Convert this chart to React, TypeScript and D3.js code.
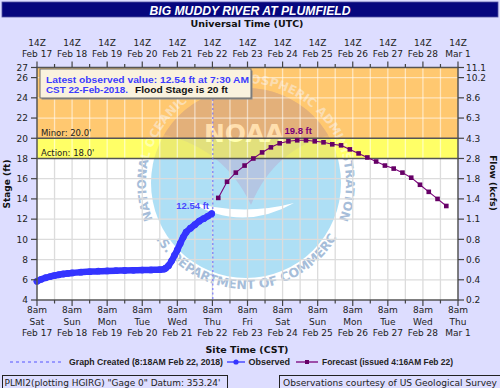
import React from 'react';
import * as d3 from 'd3';

const W = 500;
const H = 388;
const parse = d3.utcParse('%Y-%m-%d %H:%M');

// ---- data (times are CST wall clock) ----
const xStartStr = '2018-02-17 08:00';
const xEndStr = '2018-03-01 08:00';
const graphCreatedStr = '2018-02-22 08:18';

const stageTicks = [4, 6, 8, 10, 12, 14, 16, 18, 20, 22, 24, 26, 27];
const flowTickLabels = ['0.2', '0.4', '0.6', '0.8', '1.1', '1.4', '1.8', '2.8', '4.3', '6.3', '8.6', '10.2', '11.1'];
const gridStages = [6, 8, 10, 12, 14, 16, 22, 24, 26];
const stageMin = 4;
const stageMax = 27;
const floodStage = 20;
const actionStage = 18;

// observed: hours after Feb 17 08:00 CST, stage in ft
const obsHours = [0, 3, 6, 9, 12, 15, 18, 21, 24, 30, 36, 42, 48, 54, 60, 66, 72, 78, 84, 87, 88, 90, 92, 94, 96, 98, 100, 102, 105, 108, 111, 114, 117, 119.5];
const obsStage = [5.85, 6.05, 6.2, 6.32, 6.42, 6.5, 6.57, 6.63, 6.68, 6.75, 6.8, 6.85, 6.88, 6.9, 6.92, 6.94, 6.96, 6.98, 7.0, 7.06, 7.15, 7.4, 7.85, 8.4, 8.95, 9.6, 10.2, 10.7, 11.1, 11.45, 11.8, 12.05, 12.3, 12.54];

// forecast (issued 4:16AM Feb 22)
const fcstTimes = [
  '2018-02-22 12:00', '2018-02-22 18:00', '2018-02-23 00:00', '2018-02-23 06:00', '2018-02-23 12:00', '2018-02-23 18:00',
  '2018-02-24 00:00', '2018-02-24 06:00', '2018-02-24 12:00', '2018-02-24 18:00', '2018-02-25 00:00', '2018-02-25 06:00',
  '2018-02-25 12:00', '2018-02-25 18:00', '2018-02-26 00:00', '2018-02-26 06:00', '2018-02-26 12:00', '2018-02-26 18:00',
  '2018-02-27 00:00', '2018-02-27 06:00', '2018-02-27 12:00', '2018-02-27 18:00', '2018-02-28 00:00', '2018-02-28 06:00',
  '2018-02-28 12:00', '2018-02-28 18:00', '2018-03-01 00:00',
];
const fcstStage = [14.1, 15.7, 16.6, 17.3, 18.0, 18.6, 19.1, 19.5, 19.7, 19.8, 19.8, 19.7, 19.6, 19.4, 19.3, 18.9, 18.5, 18.1, 17.7, 17.3, 17.0, 16.6, 16.1, 15.4, 14.7, 14.0, 13.3];

const TICK_FONT = 'DejaVu Sans';
const LAB_FONT = 'Liberation Sans';

type LogoColors = { disk: string; dome: string; text: string; white: string };

const cx = 246;
const cy = 183;
const pt = (a: number, r: number) => [cx + r * Math.cos((a * Math.PI) / 180), cy + r * Math.sin((a * Math.PI) / 180)];
const ringTopR = 100;
const ringBotR = 106;
const tA = pt(158, ringTopR);
const tB = pt(382, ringTopR);
const bA = pt(150, ringBotR);
const bB = pt(30, ringBotR);
const ringTopPath = `M${tA[0]},${tA[1]} A${ringTopR},${ringTopR} 0 1 1 ${tB[0]},${tB[1]}`;
const ringBotPath = `M${bA[0]},${bA[1]} A${ringBotR},${ringBotR} 0 0 0 ${bB[0]},${bB[1]}`;
const domePath = `M${cx - 100},${cy - 52} Q${cx - 25},${cy - 42} ${cx + 5},${cy + 22} Q${cx + 30},${cy - 40} ${cx + 100},${cy - 52} L${cx + 100},${cy - 110} L${cx - 100},${cy - 110} Z`;
const wingPath = `M${cx - 58},${cy + 18} Q${cx - 5},${cy + 50} ${cx + 48},${cy + 20} Q${cx - 5},${cy + 34} ${cx - 58},${cy + 18} Z`;

function Logo({ c }: { c: LogoColors }) {
  return (
    <g>
      <circle cx={cx} cy={cy} r={95} fill={c.disk} />
      <path d={domePath} fill={c.dome} clipPath="url(#diskClip)" />
      <path d={wingPath} fill={c.white} />
      <text x={cx - 2} y={142} fontFamily={TICK_FONT} fontWeight="bold" fontSize={25} fill={c.white} textAnchor="middle">NOAA</text>
      <text fontFamily={TICK_FONT} fontWeight="bold" fontSize={12} fill={c.text}>
        <textPath href="#ringTop" startOffset="50%" textAnchor="middle">NATIONAL OCEANIC AND ATMOSPHERIC ADMINISTRATION</textPath>
      </text>
      <text fontFamily={TICK_FONT} fontWeight="bold" fontSize={12.5} fill={c.text}>
        <textPath href="#ringBot" startOffset="50%" textAnchor="middle">U.S. DEPARTMENT OF COMMERCE</textPath>
      </text>
    </g>
  );
}

export default function App() {
  const t0 = parse(xStartStr) as Date;
  const t1 = parse(xEndStr) as Date;
  const x = d3.scaleUtc().domain([t0, t1]).range([37, 458]);
  const y = d3.scaleLinear().domain([stageMin, stageMax]).range([300, 67.5]);
  const L = 37, R = 458, T = y(stageMax), B = y(stageMin);

  const halfDays = d3.utcHour.range(t0, new Date(+t1 + 1), 12);
  const majors = halfDays.filter((d) => d.getUTCHours() === 8);
  const minors = halfDays.filter((d) => d.getUTCHours() !== 8);

  const obs = obsHours.map((h, i) => ({ t: new Date(+t0 + h * 3600e3), v: obsStage[i] }));
  const fc = fcstTimes.map((s, i) => ({ t: parse(s) as Date, v: fcstStage[i] }));
  const line = d3.line<{ t: Date; v: number }>().x((d) => x(d.t)).y((d) => y(d.v)).curve(d3.curveMonotoneX);
  const lineLin = d3.line<{ t: Date; v: number }>().x((d) => x(d.t)).y((d) => y(d.v));

  const last = obs[obs.length - 1];
  const peakIdx = d3.maxIndex(fc, (d) => d.v);
  const peak = fc[peakIdx];
  const created = parse(graphCreatedStr) as Date;

  const fmtDay = d3.utcFormat('%a');
  const fmtDate = d3.utcFormat('%b %-d');

  const yFlood = y(floodStage);
  const yAction = y(actionStage);

  const gridV = halfDays.slice(1, -1);

  return (
    <svg width={W} height={H} style={{ position: 'absolute', left: 0, top: 0 }} xmlns="http://www.w3.org/2000/svg">
      <defs>
        <clipPath id="clipWhite"><rect x={L} y={yAction} width={R - L} height={B - yAction} /></clipPath>
        <clipPath id="clipYellow"><rect x={L} y={yFlood} width={R - L} height={yAction - yFlood} /></clipPath>
        <clipPath id="clipOrange"><rect x={L} y={T} width={R - L} height={yFlood - T} /></clipPath>
        <clipPath id="clipBand"><rect x={L} y={T} width={R - L} height={yAction - T} /></clipPath>
        <clipPath id="diskClip"><circle cx={cx} cy={cy} r={95} /></clipPath>
        <path id="ringTop" d={ringTopPath} />
        <path id="ringBot" d={ringBotPath} />
      </defs>
      <rect x={0} y={0} width={W} height={H} fill="#DDDDFF" />

      {/* title */}
      <rect x={2} y={2} width={496} height={15} fill="#06067E" stroke="#5050A0" strokeWidth={0.8} />
      <text x={250} y={14.6} textAnchor="middle" fill="#fff" fontFamily={LAB_FONT} fontWeight="bold" fontStyle="italic" fontSize={12.5} textLength={201} lengthAdjust="spacingAndGlyphs">BIG MUDDY RIVER AT PLUMFIELD</text>
      <text x={247} y={27.3} textAnchor="middle" fill="#111" fontFamily={TICK_FONT} fontWeight="bold" fontSize={9.5}>Universal Time (UTC)</text>

      {/* plot background, bands */}
      <rect x={L} y={T} width={R - L} height={B - T} fill="#FFFFFF" />
      <rect x={L} y={T} width={R - L} height={yFlood - T} fill="#FFC870" />
      <rect x={L} y={yFlood} width={R - L} height={yAction - yFlood} fill="#FFFF66" />

      {/* watermark */}
      <g clipPath="url(#clipWhite)"><Logo c={{ disk: '#AEDFF5', dome: '#B4C6E3', text: '#A6BDD9', white: '#FFFFFF' }} /></g>
      <g clipPath="url(#clipYellow)"><Logo c={{ disk: '#ECEC70', dome: '#E2E07C', text: '#FFFFAA', white: '#FFFFB0' }} /></g>
      <g clipPath="url(#clipOrange)"><Logo c={{ disk: '#ECB877', dome: '#E3B07A', text: '#FBDDB0', white: '#FFDFAE' }} /></g>

      {/* grid */}
      <g clipPath="url(#clipWhite)" stroke="#DCDCDC" strokeWidth={1.3}>
        {gridV.map((d, i) => <line key={i} x1={x(d)} x2={x(d)} y1={T} y2={B} />)}
        {gridStages.map((s) => <line key={s} x1={L} x2={R} y1={y(s)} y2={y(s)} />)}
      </g>
      <g clipPath="url(#clipBand)" stroke="#FFFFFF" strokeOpacity={0.55} strokeWidth={1.3}>
        {gridV.map((d, i) => <line key={i} x1={x(d)} x2={x(d)} y1={T} y2={B} />)}
        {gridStages.map((s) => <line key={s} x1={L} x2={R} y1={y(s)} y2={y(s)} />)}
      </g>

      {/* stage lines */}
      <line x1={L} x2={R} y1={yFlood} y2={yFlood} stroke="#555" strokeWidth={1.4} />
      <line x1={L} x2={R} y1={yAction} y2={yAction} stroke="#555" strokeWidth={1.4} />
      <text x={41} y={yFlood - 2} fontFamily={TICK_FONT} fontSize={8.5} fill="#222">Minor: 20.0'</text>
      <text x={41} y={yAction - 2} fontFamily={TICK_FONT} fontSize={8.5} fill="#222">Action: 18.0'</text>

      {/* graph created line */}
      <line x1={x(created)} x2={x(created)} y1={T} y2={B} stroke="#6666FF" strokeWidth={1} strokeDasharray="2,2.5" />

      {/* info box */}
      <rect x={41.5} y={70.5} width={211} height={29} fill="#8A8A8A" />
      <rect x={40} y={69} width={211} height={29} fill="#FAF2DE" stroke="#6E6E6E" strokeWidth={1} />
      <text x={46} y={82.5} fontFamily={LAB_FONT} fontWeight="bold" fontSize={9} fill="#3C3CFF" textLength={203} lengthAdjust="spacingAndGlyphs">Latest observed value: 12.54 ft at 7:30 AM</text>
      <text x={46} y={92.6} fontFamily={LAB_FONT} fontWeight="bold" fontSize={9} fill="#3C3CFF" textLength={82} lengthAdjust="spacingAndGlyphs">CST 22-Feb-2018.</text>
      <text x={135} y={92.6} fontFamily={LAB_FONT} fontWeight="bold" fontSize={9} fill="#111" textLength={93} lengthAdjust="spacingAndGlyphs">Flood Stage is 20 ft</text>

      {/* observed */}
      <path d={line(obs) || ''} fill="none" stroke="#3434FF" strokeWidth={6.5} strokeLinejoin="round" strokeLinecap="round" />
      {obs.map((d, i) => <circle key={i} cx={x(d.t)} cy={y(d.v)} r={3.4} fill="#3434FF" />)}
      <text x={x(last.t) - 19} y={y(last.v) - 4.5} textAnchor="middle" fontFamily={LAB_FONT} fontWeight="bold" fontSize={9.5} fill="#4848FF">12.54 ft</text>

      {/* forecast */}
      <path d={lineLin(fc) || ''} fill="none" stroke="#7A007A" strokeWidth={1.1} />
      {fc.map((d, i) => <rect key={i} x={x(d.t) - 2.3} y={y(d.v) - 2.3} width={4.6} height={4.6} fill="#660066" />)}
      <text x={x(peak.t) + 1} y={y(peak.v) - 6} textAnchor="middle" fontFamily={LAB_FONT} fontWeight="bold" fontSize={9.5} fill="#7A007A">19.8 ft</text>

      {/* frame */}
      <rect x={L} y={T} width={R - L} height={B - T} fill="none" stroke="#555" strokeWidth={1.5} />

      {/* top axis */}
      <g fontFamily={TICK_FONT} fontSize={9} fill="#222" textAnchor="middle">
        {majors.map((d, i) => (
          <g key={i}>
            <line x1={x(d)} x2={x(d)} y1={T} y2={T - 6} stroke="#444" strokeWidth={1.2} />
            <text x={x(d)} y={46}>14Z</text>
            <text x={x(d)} y={57}>{fmtDate(d)}</text>
          </g>
        ))}
        {minors.map((d, i) => <line key={i} x1={x(d)} x2={x(d)} y1={T} y2={T - 3.5} stroke="#444" strokeWidth={1.2} />)}
      </g>

      {/* bottom axis */}
      <g fontFamily={TICK_FONT} fontSize={9} fill="#222" textAnchor="middle">
        {majors.map((d, i) => (
          <g key={i}>
            <line x1={x(d)} x2={x(d)} y1={B} y2={B + 6} stroke="#444" strokeWidth={1.2} />
            <text x={x(d)} y={313}>8am</text>
            <text x={x(d)} y={324.5}>{fmtDay(d)}</text>
            <text x={x(d)} y={336}>{fmtDate(d)}</text>
          </g>
        ))}
        {minors.map((d, i) => <line key={i} x1={x(d)} x2={x(d)} y1={B} y2={B + 3.5} stroke="#444" strokeWidth={1.2} />)}
      </g>

      {/* left axis */}
      <g fontFamily={TICK_FONT} fontSize={9} fill="#222">
        {stageTicks.map((s) => (
          <g key={s}>
            <line x1={L - 6} x2={L} y1={y(s)} y2={y(s)} stroke="#444" strokeWidth={1.2} />
            <text x={28} y={y(s) + 3.3} textAnchor="end">{s}</text>
          </g>
        ))}
      </g>
      <text transform="translate(10,184) rotate(-90)" textAnchor="middle" fontFamily={TICK_FONT} fontWeight="bold" fontSize={9} fill="#111">Stage (ft)</text>

      {/* right axis */}
      <g fontFamily={TICK_FONT} fontSize={9} fill="#222">
        {stageTicks.map((s, i) => (
          <g key={s}>
            <line x1={R} x2={R + 6} y1={y(s)} y2={y(s)} stroke="#444" strokeWidth={1.2} />
            <text x={466} y={y(s) + 3.3}>{flowTickLabels[i]}</text>
          </g>
        ))}
      </g>
      <text transform="translate(490,183) rotate(90)" textAnchor="middle" fontFamily={TICK_FONT} fontWeight="bold" fontSize={9} fill="#111">Flow (kcfs)</text>

      {/* x title + legend */}
      <text x={247} y={353} textAnchor="middle" fontFamily={TICK_FONT} fontWeight="bold" fontSize={9.5} fill="#111">Site Time (CST)</text>
      <line x1={10} x2={63} y1={362} y2={362} stroke="#5555FF" strokeWidth={1} strokeDasharray="3,3" />
      <text x={69} y={365.3} fontFamily={LAB_FONT} fontWeight="bold" fontSize={9} fill="#222" textLength={154} lengthAdjust="spacingAndGlyphs">Graph Created (8:18AM Feb 22, 2018)</text>
      <line x1={227} x2={245} y1={362} y2={362} stroke="#3434FF" strokeWidth={1.3} />
      <circle cx={236} cy={362} r={2.6} fill="#3434FF" />
      <text x={248.5} y={365.3} fontFamily={LAB_FONT} fontWeight="bold" fontSize={9} fill="#222">Observed</text>
      <line x1={296} x2={318} y1={362} y2={362} stroke="#7A007A" strokeWidth={1.3} />
      <rect x={305} y={360} width={4} height={4} fill="#660066" />
      <text x={322} y={365.3} fontFamily={LAB_FONT} fontWeight="bold" fontSize={9} fill="#222" textLength={131} lengthAdjust="spacingAndGlyphs">Forecast (issued 4:16AM Feb 22)</text>

      {/* footer boxes */}
      <rect x={2.5} y={375.5} width={225} height={16} fill="none" stroke="#222" strokeWidth={1} />
      <text x={4.5} y={385.5} fontFamily={TICK_FONT} fontSize={9} fill="#222" textLength={216} lengthAdjust="spacingAndGlyphs">PLMI2(plotting HGIRG) "Gage 0" Datum: 353.24'</text>
      <rect x={279.5} y={375.5} width={222} height={16} fill="none" stroke="#222" strokeWidth={1} />
      <text x={283} y={385.5} fontFamily={TICK_FONT} fontSize={9} fill="#222" textLength={214} lengthAdjust="spacingAndGlyphs">Observations courtesy of US Geological Survey</text>
    </svg>
  );
}
